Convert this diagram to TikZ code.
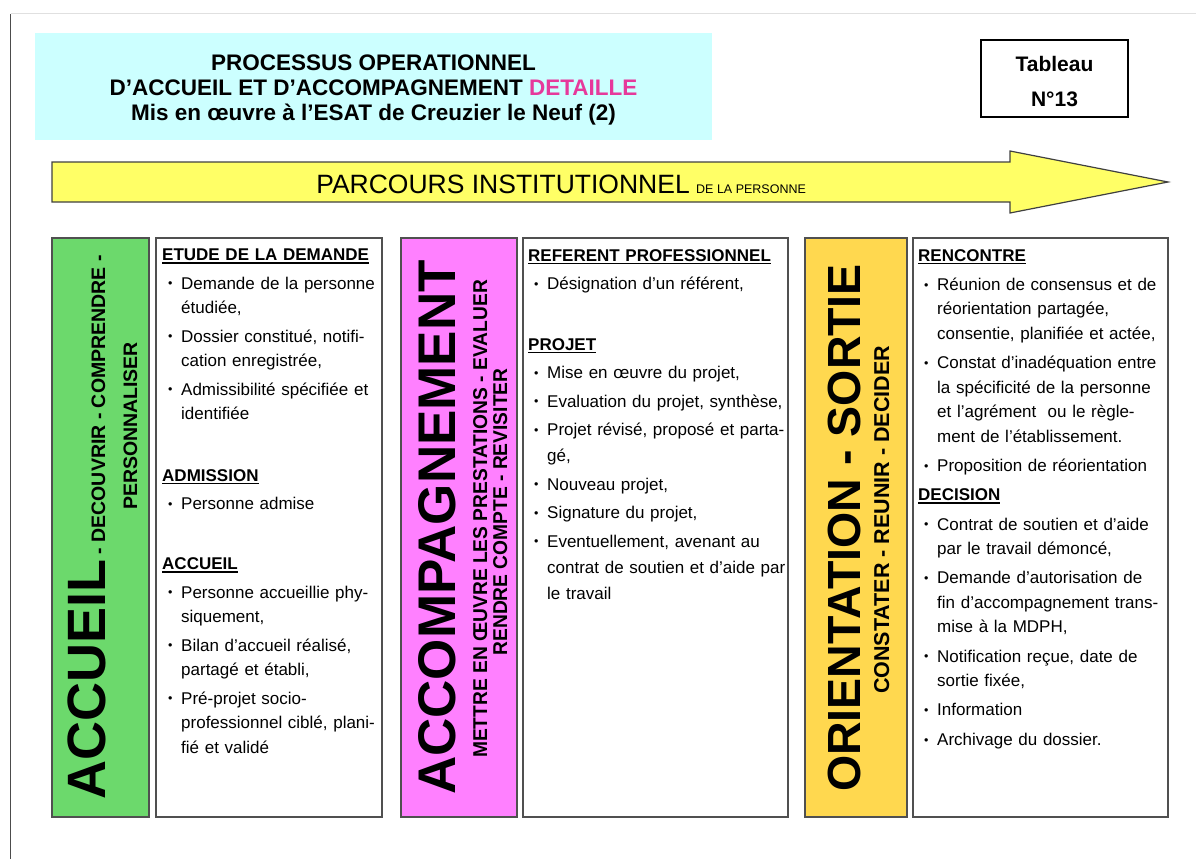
\documentclass[tikz,border=0pt]{standalone}
\usepackage{fontspec}
\setmainfont{Liberation Sans}
\usetikzlibrary{
		positioning,
		arrows.meta
	}
\definecolor{cyanpale}{RGB}{204,255,255}
\definecolor{vertphase}{RGB}{108,217,108}
\definecolor{rosephase}{RGB}{255,128,255}
\definecolor{orphase}{RGB}{255,216,79}
\definecolor{jaunefleche}{RGB}{255,255,102}
\definecolor{rosetitre}{RGB}{230,57,155}
\definecolor{trait}{RGB}{80,80,80}

\newlength\retrait \setlength\retrait{19pt}
\newlength\ecart
\newcommand\souligne[1]{\leavevmode\setbox0\hbox{#1}\rlap{\rule[-2.8pt]{\wd0}{1.3pt}}\box0}
\newcommand\rubrique[1]{\noindent\souligne{\bfseries #1}\par\vspace{\ecart}}
\newcommand\puce[1]{{\let\\\newline\hangindent=\retrait\hangafter=1\noindent
	\makebox[\retrait][l]{\hspace{6pt}\raisebox{1.2pt}{\fontsize{12.5}{12}\selectfont •}}#1\par}\vspace{\ecart}}

\tikzset{
		cadre/.style={draw=trait, line width=1.3pt, inner sep=0pt, minimum height=579pt},
		vertical/.style={rotate=90, anchor=base, inner sep=0pt},
		bloc/.style 2 args={anchor=north west, inner sep=0pt, text width=258pt, align=left,
			font=\fontsize{17}{#1}\selectfont\setlength\ecart{#2}},
		fleche/.style={draw=black!75, fill=jaunefleche, line width=1.2pt, line join=miter}
	}

\begin{document}
\begin{tikzpicture}[x=1pt,y=-1pt]
		\useasboundingbox (0,0) rectangle (1196,859);
		% page frame
		\draw[black!12, line width=1pt] (10.5,14) -- (1196,14);
		\draw[black!70, line width=1.2pt] (10.5,14) -- (10.5,859);

		% heading
		\fill[cyanpale] (35,33) rectangle (712,140);
		\node[align=center, font=\bfseries\fontsize{22.5}{25}\selectfont] (titre) at (373.5,90)
			{PROCESSUS OPERATIONNEL\\ D’ACCUEIL ET D’ACCOMPAGNEMENT \textcolor{rosetitre}{DETAILLE}\\ Mis en œuvre à l’ESAT de Creuzier le Neuf (2)};
		\draw[black, line width=1.6pt] (981,40) rectangle (1128,117);
		\node[align=center, font=\bfseries\fontsize{21}{35}\selectfont] (tableau) at (1054.5,82) {Tableau\\ N°13};

		% big arrow
		\draw[fleche] (52,162) -- (1010,162) -- (1010,151) -- (1168,182) -- (1010,213) -- (1010,202) -- (52,202) -- cycle;
		\node[anchor=base east, inner sep=0pt, font=\fontsize{26.5}{26}\selectfont] (parcours) at (690,193.5) {PARCOURS INSTITUTIONNEL};
		\node[right=6pt of parcours.base east, anchor=base west, inner sep=0pt, font=\fontsize{12.5}{12}\selectfont] (personne) {DE LA PERSONNE};

		% the three phases
		\node[cadre, fill=vertphase, minimum width=97pt] (accueil) at (100.5,527.5) {};
		\node[cadre, fill=white, minimum width=226pt] (detailA) at (269,527.5) {};
		\node[cadre, fill=rosephase, minimum width=116pt] (accomp) at (459,527.5) {};
		\node[cadre, fill=white, minimum width=265pt] (detailB) at (655.5,527.5) {};
		\node[cadre, fill=orphase, minimum width=102pt] (sortie) at (856,527.5) {};
		\node[cadre, fill=white, minimum width=255pt] (detailC) at (1040.5,527.5) {};

		\node[vertical, font=\bfseries] (accueilTxt) at (105,527.5)
			{\fontsize{54}{54}\selectfont ACCUEIL\fontsize{19.5}{20}\selectfont\ - DECOUVRIR - COMPRENDRE -};
		\node[vertical, font=\bfseries\fontsize{19.5}{20}\selectfont] (accueilFin) at (137,426) {PERSONNALISER};

		\node[vertical, font=\bfseries\fontsize{53}{53}\selectfont] (accompTxt) at (455,527.5) {ACCOMPAGNEMENT};
		\node[vertical, font=\bfseries\fontsize{20}{20}\selectfont] (accompSuite) at (487,519)
			{\scalebox{0.96}[1]{METTRE EN ŒUVRE LES PRESTATIONS - EVALUER}};
		\node[vertical, font=\bfseries\fontsize{20}{20}\selectfont] (accompFin) at (507,512)
			{\scalebox{0.96}[1]{RENDRE COMPTE - REVISITER}};

		\node[vertical, font=\bfseries\fontsize{46.5}{46}\selectfont] (sortieTxt) at (860,528) {ORIENTATION - SORTIE};
		\node[vertical, font=\bfseries\fontsize{21.5}{21}\selectfont] (sortieSuite) at (889,520) {CONSTATER - REUNIR - DECIDER};

		% detail of each phase
		\node[bloc={24.7pt}{3.6pt}] (listeA) at (162,249) {%
			\rubrique{ETUDE DE LA DEMANDE}
			\puce{Demande de la personne\\ étudiée,}
			\puce{Dossier constitué, notifi-\\ cation enregistrée,}
			\puce{Admissibilité spécifiée et\\ identifiée}
			\vspace{33pt}
			\rubrique{ADMISSION}
			\puce{Personne admise}
			\vspace{32pt}
			\rubrique{ACCUEIL}
			\puce{Personne accueillie phy-\\ siquement,}
			\puce{Bilan d’accueil réalisé,\\ partagé et établi,}
			\puce{Pré-projet socio-\\ professionnel ciblé, plani-\\ fié et validé}
		};
		\node[bloc={26pt}{2.5pt}] (listeB) at (528,249) {%
			\rubrique{REFERENT PROFESSIONNEL}
			\puce{Désignation d’un référent,}
			\vspace{32pt}
			\rubrique{PROJET}
			\puce{Mise en œuvre du projet,}
			\puce{Evaluation du projet, synthèse,}
			\puce{Projet révisé, proposé et parta-\\ gé,}
			\puce{Nouveau projet,}
			\puce{Signature du projet,}
			\puce{Eventuellement, avenant au\\ contrat de soutien et d’aide par\\ le travail}
		};
		\node[bloc={24.5pt}{4.8pt}] (listeC) at (918,249) {%
			\rubrique{RENCONTRE}
			\puce{Réunion de consensus et de\\ réorientation partagée,\\ consentie, planifiée et actée,}
			\puce{Constat d’inadéquation entre\\ la spécificité de la personne\\ et l’agrément~ ou le règle-\\ ment de l’établissement.}
			\puce{Proposition de réorientation}
			\rubrique{DECISION}
			\puce{Contrat de soutien et d’aide\\ par le travail démoncé,}
			\puce{Demande d’autorisation de\\ fin d’accompagnement trans-\\ mise à la MDPH,}
			\puce{Notification reçue, date de\\ sortie fixée,}
			\puce{Information}
			\puce{Archivage du dossier.}
		};
	\end{tikzpicture}
\end{document}
